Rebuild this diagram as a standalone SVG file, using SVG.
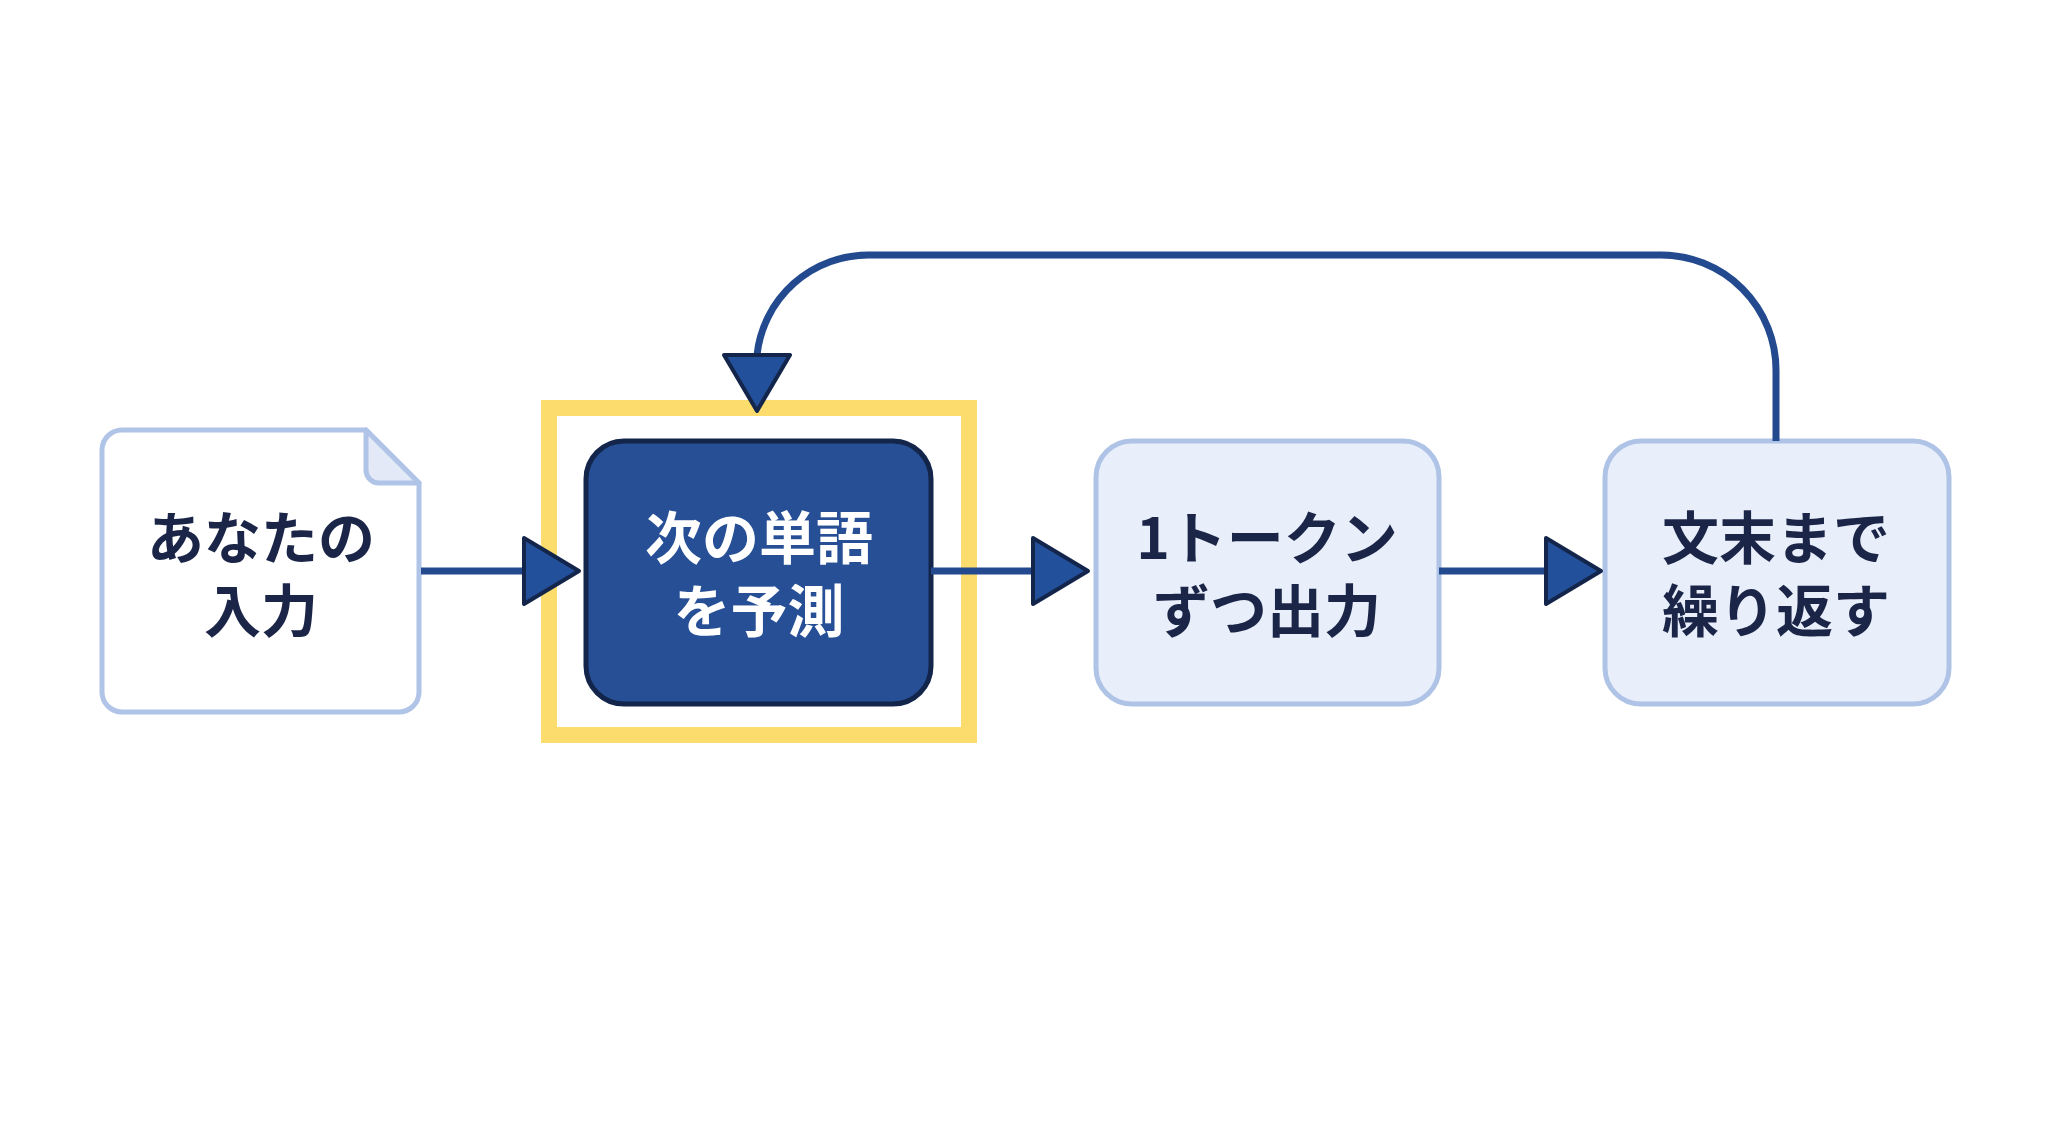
<svg xmlns="http://www.w3.org/2000/svg" width="2048" height="1143" viewBox="0 0 2048 1143">
<style>
.t{font-family:"Noto Sans CJK JP",sans-serif;font-weight:700;font-size:57px;text-anchor:middle;fill:#1a2547}
.w{fill:#ffffff}
.light{fill:#e8eefa;stroke:#aec3e6;stroke-width:5}
.ln{fill:none;stroke:#23498e;stroke-width:7}
.ah{fill:#23509a;stroke:#13254a;stroke-width:4;stroke-linejoin:round}
</style>
<rect width="2048" height="1143" fill="#ffffff"/>
<g id="input">
<path d="M122 430 H366 L419 483 V692 a20 20 0 0 1 -20 20 H122 a20 20 0 0 1 -20 -20 V450 a20 20 0 0 1 20 -20 Z" fill="#ffffff" stroke="#b0c4e8" stroke-width="5"/>
<path d="M366 430 V470 a13 13 0 0 0 13 13 H419 Z" fill="#e3e9f6" stroke="#b0c4e8" stroke-width="5" stroke-linejoin="round"/>
<text class="t" x="261" y="559">あなたの</text>
<text class="t" x="261" y="632">入力</text>
</g>
<g id="predict">
<rect x="549" y="408" width="420" height="327" fill="none" stroke="#fcdc6c" stroke-width="16"/>
<rect x="586" y="441" width="345" height="263" rx="38" fill="#264f96" stroke="#13254a" stroke-width="5"/>
<text class="t w" x="759" y="559">次の単語</text>
<text class="t w" x="759" y="632">を予測</text>
</g>
<g id="output">
<rect class="light" x="1096" y="441" width="343" height="263" rx="36"/>
<text class="t" x="1267" y="559">1トークン</text>
<text class="t" x="1267" y="632">ずつ出力</text>
</g>
<g id="repeat">
<rect class="light" x="1605" y="441" width="344" height="263" rx="36"/>
<text class="t" x="1776" y="559">文末まで</text>
<text class="t" x="1776" y="632">繰り返す</text>
</g>
<g id="connectors">
<path class="ln" d="M421 571 H524"/>
<path class="ah" d="M524 538 L579 571 L524 604 Z"/>
<path class="ln" d="M931 571 H1033"/>
<path class="ah" d="M1033 538 L1088 571 L1033 604 Z"/>
<path class="ln" d="M1439 571 H1546"/>
<path class="ah" d="M1546 538 L1601 571 L1546 604 Z"/>
<path class="ln" d="M1776 441 V370 A115 115 0 0 0 1661 255 H869 A112 112 0 0 0 757 355"/>
<path class="ah" d="M724 355 L757 411 L790 355 Z"/>
</g>
</svg>
